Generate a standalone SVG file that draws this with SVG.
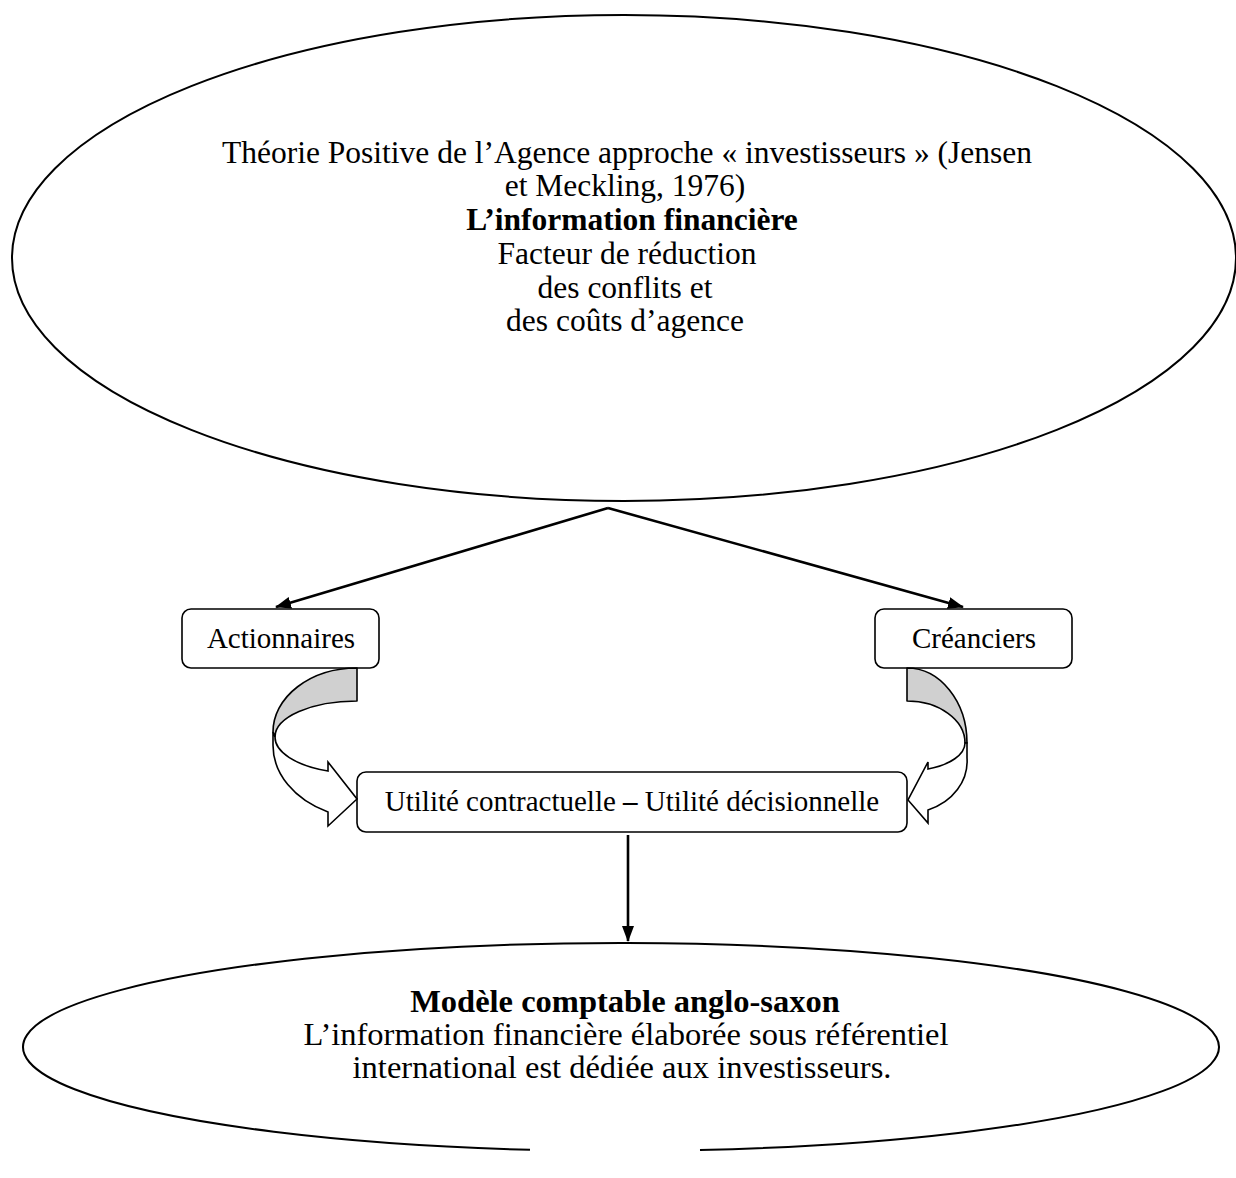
<svg xmlns="http://www.w3.org/2000/svg" width="1236" height="1178" viewBox="0 0 1236 1178">
  <style>
    .shape { fill: #ffffff; stroke: #000000; stroke-width: 2; }
    .box { fill: #ffffff; stroke: #000000; stroke-width: 1.6; }
    .txt { font-family: "Liberation Serif", "Times New Roman", serif; font-size: 29px; fill: #000000; text-anchor: middle; }
    .big { font-size: 31.5px; }
    .low { font-size: 32.5px; }
    .bold { font-weight: bold; }
    .conn { stroke: #000000; stroke-width: 2.6; fill: none; }
    .back { fill: #d0d0d0; stroke: #000000; stroke-width: 1.6; stroke-linejoin: round; }
    .front { fill: #ffffff; stroke: #000000; stroke-width: 1.6; stroke-linejoin: miter; }
  </style>
  <defs>
    <marker id="head" markerWidth="16" markerHeight="12" refX="15" refY="6" orient="auto" markerUnits="userSpaceOnUse">
      <path d="M0,0 L16,6 L0,12 Z" fill="#000000"/>
    </marker>
  </defs>
  <rect width="1236" height="1178" fill="#ffffff"/>

  <g id="theorie">
    <ellipse class="shape" cx="624" cy="258" rx="612" ry="243"/>
    <text class="txt big" x="627" y="163">Théorie Positive de l’Agence approche « investisseurs » (Jensen</text>
    <text class="txt big" x="625" y="196">et Meckling, 1976)</text>
    <text class="txt big bold" x="632" y="230">L’information financière</text>
    <text class="txt big" x="627" y="264">Facteur de réduction</text>
    <text class="txt big" x="625" y="298">des conflits et</text>
    <text class="txt big" x="625" y="331">des coûts d’agence</text>
  </g>

  <g id="actionnaires">
    <rect class="box" x="182" y="609" width="197" height="59" rx="9"/>
    <text class="txt" x="281" y="648">Actionnaires</text>
  </g>

  <g id="creanciers">
    <rect class="box" x="875" y="609" width="197" height="59" rx="9"/>
    <text class="txt" x="974" y="648">Créanciers</text>
  </g>

  <g id="utilite">
    <rect class="box" x="357" y="772" width="550" height="60" rx="9"/>
    <text class="txt" x="632" y="811">Utilité contractuelle <tspan class="bold">–</tspan> Utilité décisionnelle</text>
  </g>

  <g id="modele">
    <!-- outline left open where it runs off the bottom of the page -->
    <path class="shape" d="M530,1149.8 A598,104 0 1 1 700,1150.1"/>
    <text class="txt low bold" x="625" y="1012">Modèle comptable anglo-saxon</text>
    <text class="txt low" x="626" y="1045">L’information financière élaborée sous référentiel</text>
    <text class="txt low" x="622" y="1078">international est dédiée aux investisseurs.</text>
  </g>

  <g id="connectors">
    <path class="conn" d="M608,508 L276,607" marker-end="url(#head)"/>
    <path class="conn" d="M608,508 L963,607" marker-end="url(#head)"/>
    <path class="conn" d="M628,835 L628,941" marker-end="url(#head)"/>

    <!-- curved arrow from the shareholders box down into the utility box -->
    <path class="back" d="M357,668 A84,64 0 0 0 273,732 L275,737 A82,36 0 0 1 357,701 Z"/>
    <path class="front" d="M273,732 L273,745 A97,74 0 0 0 328,812 L328,826 L357,799 L328,762 L328,771 A82,36 0 0 1 275,737 Z"/>

    <!-- curved arrow from the creditors box down into the utility box -->
    <path class="back" d="M907,668 A60,75 0 0 1 967,743 L965,743 A58,42 0 0 0 907,701 Z"/>
    <path class="front" d="M967,743 L967,758 A60,52 0 0 1 928,810 L928,823 L908,800 L928,762 L928,769 A58,28 0 0 0 965,743 Z"/>
  </g>
</svg>
